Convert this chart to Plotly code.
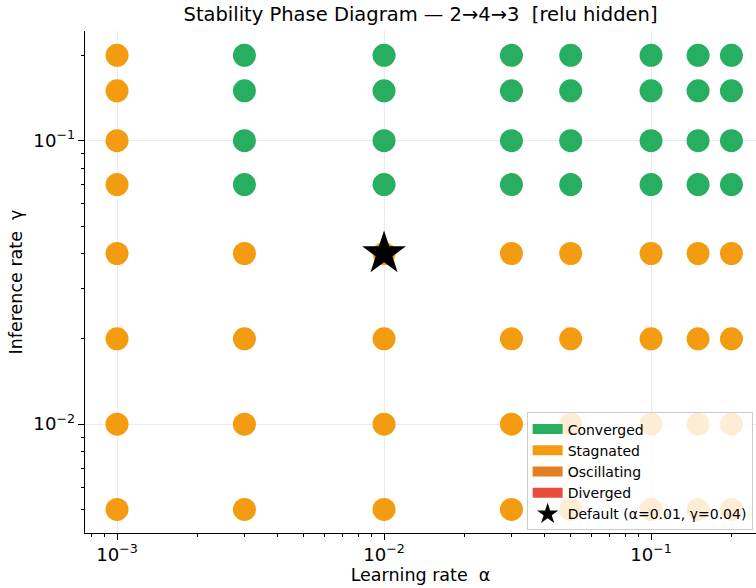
import plotly.graph_objects as go

alphas = [0.001, 0.003, 0.01, 0.03, 0.05, 0.1, 0.15, 0.2]
gammas = [0.005, 0.01, 0.02, 0.04, 0.07, 0.1, 0.15, 0.2]
# status[i][j] for gamma i, alpha j
status = [
    ["Stagnated"] * 8,
    ["Stagnated"] * 8,
    ["Stagnated"] * 8,
    ["Stagnated"] * 8,
    ["Stagnated"] + ["Converged"] * 7,
    ["Stagnated"] + ["Converged"] * 7,
    ["Stagnated"] + ["Converged"] * 7,
    ["Stagnated"] + ["Converged"] * 7,
]
categories = ["Converged", "Stagnated", "Oscillating", "Diverged"]
colors = {"Converged": "#27ae60", "Stagnated": "#f39c12",
          "Oscillating": "#e67e22", "Diverged": "#e74c3c"}
default_alpha = 0.01
default_gamma = 0.04

FONT = "DejaVu Sans"
fig = go.Figure()

for cat in categories:
    xs, ys = [], []
    for i, g in enumerate(gammas):
        for j, a in enumerate(alphas):
            if status[i][j] == cat:
                xs.append(a)
                ys.append(g)
    fig.add_trace(go.Scatter(x=xs, y=ys, mode="markers",
                             marker=dict(size=23, color=colors[cat]),
                             showlegend=False, hoverinfo="skip"))
    # legend patch
    fig.add_trace(go.Scatter(x=[None], y=[None], mode="lines", name=cat,
                             line=dict(color=colors[cat], width=10)))

fig.add_trace(go.Scatter(x=[default_alpha], y=[default_gamma], mode="markers",
                         marker=dict(symbol="star", size=33, color="black",
                                     line=dict(width=0)),
                         name="Default (α=0.01, γ=0.04)"))

fig.update_layout(
    width=756, height=588,
    margin=dict(l=85, r=0, t=31, b=55, autoexpand=False),
    paper_bgcolor="white", plot_bgcolor="white",
    font=dict(family=FONT, size=14, color="black"),
    title=dict(text="Stability Phase Diagram — 2→4→3\u00a0\u00a0[relu hidden]",
               x=0.5, xanchor="center", xref="paper",
               y=0.976, yref="container", yanchor="middle",
               font=dict(size=19.5), automargin=False),
    legend=dict(x=0.995, y=0.005, xanchor="right", yanchor="bottom",
                bgcolor="rgba(255,255,255,0.82)", bordercolor="#cccccc",
                borderwidth=1, font=dict(size=14), itemwidth=30,
                tracegroupgap=0),
)
fig.update_xaxes(type="log", range=[-3.12, -0.607], dtick=1, automargin=False,
                 exponentformat="power", showline=True, linecolor="black",
                 linewidth=1, ticks="outside", ticklen=6, tickcolor="black",
                 showgrid=True, gridcolor="#ebebeb", zeroline=False,
                 minor=dict(ticks="outside", ticklen=3, tickcolor="black",
                            showgrid=False),
                 title=dict(text="Learning rate\u00a0\u00a0α", font=dict(size=17.5), standoff=4),
                 tickfont=dict(size=14.5))
fig.update_yaxes(type="log", range=[-2.384, -0.613], dtick=1, automargin=False,
                 exponentformat="power", showline=True, linecolor="black",
                 linewidth=1, ticks="outside", ticklen=6, tickcolor="black",
                 showgrid=True, gridcolor="#ebebeb", zeroline=False,
                 minor=dict(ticks="outside", ticklen=3, tickcolor="black",
                            showgrid=False),
                 title=dict(text="Inference rate\u00a0\u00a0γ", font=dict(size=17.5), standoff=6),
                 tickfont=dict(size=14.5))

fig.write_html("out.html", config={"displayModeBar": False},
               post_script="document.body.style.margin='0';document.body.style.padding='0';")
